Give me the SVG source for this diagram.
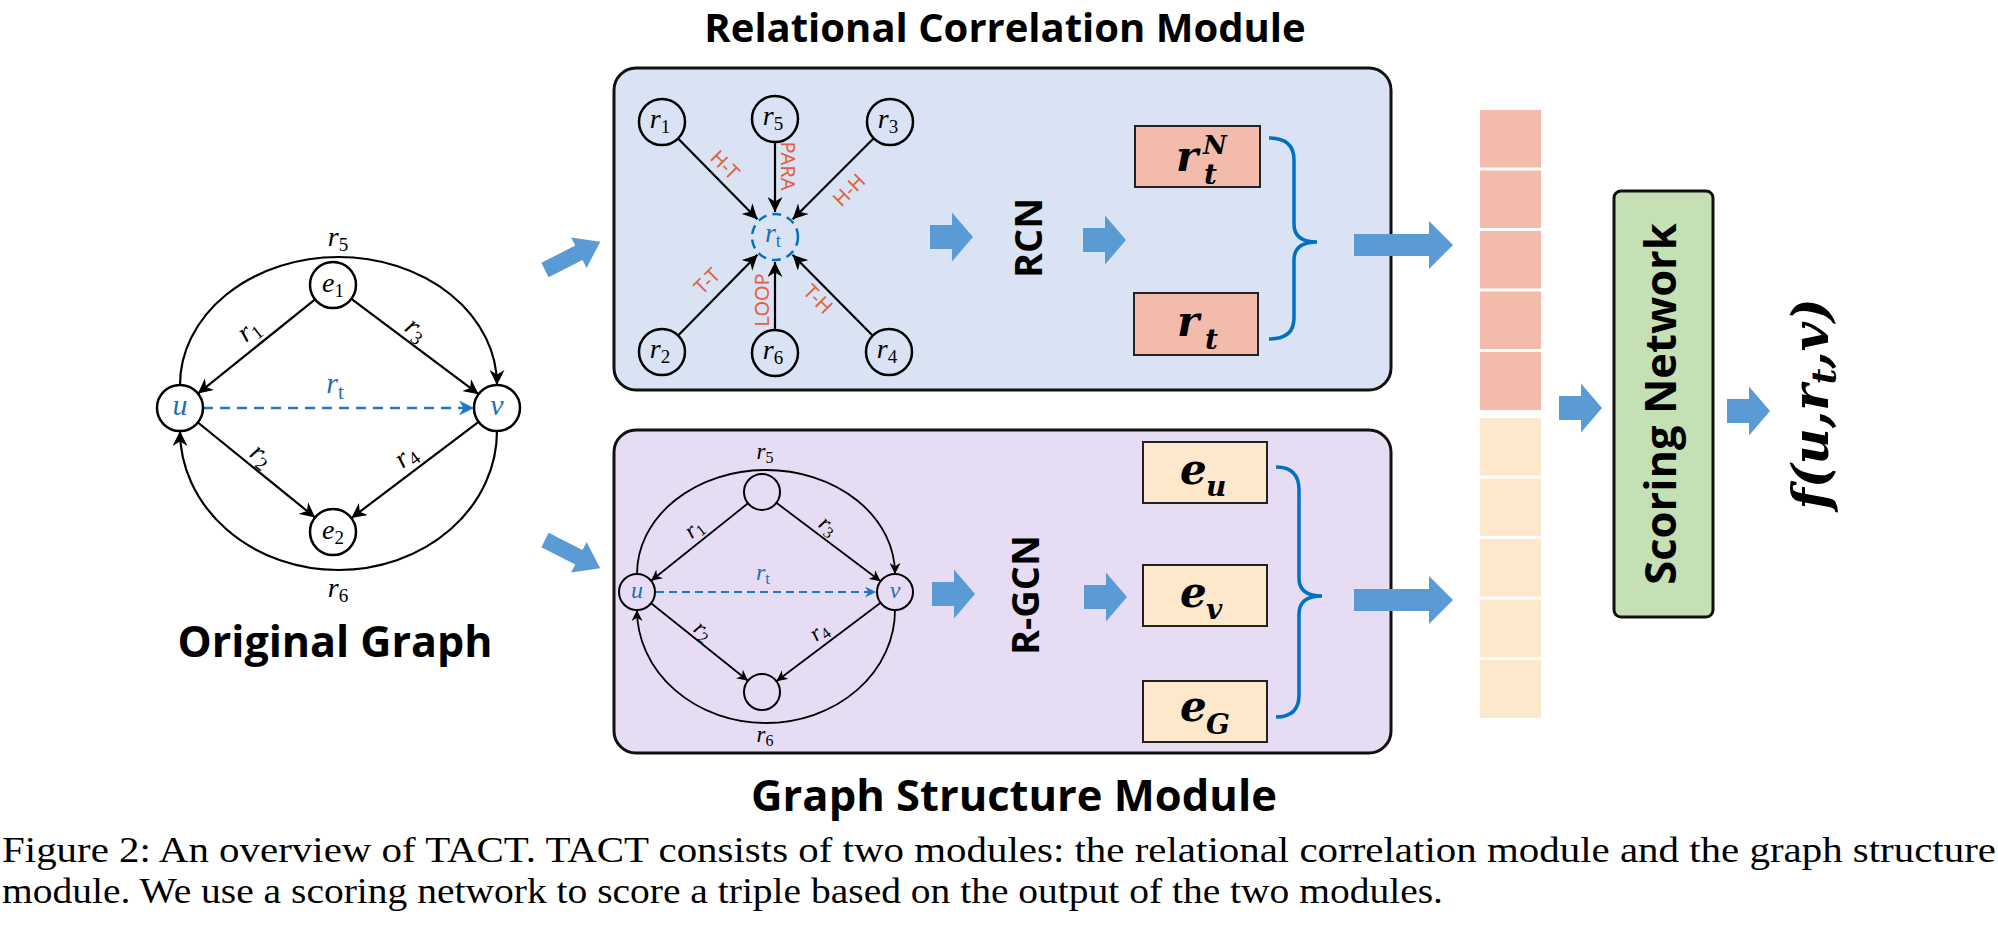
<svg xmlns="http://www.w3.org/2000/svg" width="1998" height="952" viewBox="0 0 1998 952">
<style>
.title{font-family:"Open Sans","Noto Sans","Liberation Sans",sans-serif;font-weight:700;fill:#000}
.lbl{font-family:"Open Sans","Noto Sans","Liberation Sans",sans-serif;font-weight:700;fill:#000}
.mi{font-family:"Liberation Serif","DejaVu Serif",serif;font-style:italic;fill:#000}
.sub{font-style:normal}
.blue{fill:#1f6fb8}
.rel{font-family:"Noto Sans","Open Sans","Liberation Sans",sans-serif;font-size:20px;fill:#e0603f}
.mb{font-family:"DejaVu Serif","Liberation Serif",serif;font-weight:700;font-style:italic;fill:#000}
.cap{font-family:"Liberation Serif","Times New Roman",serif;font-size:36px;fill:#000}
.node{fill:#fff;stroke:#000;stroke-width:2.5}
.nodet{fill:none;stroke:#000;stroke-width:2.5}
.nodes{fill:none;stroke:#000;stroke-width:2}
.edge{fill:none;stroke:#000;stroke-width:2.2}
.edges{fill:none;stroke:#000;stroke-width:1.8}
.dash{fill:none;stroke:#1f78c8;stroke-width:2.5;stroke-dasharray:10 7}
.dashs{fill:none;stroke:#1f78c8;stroke-width:2;stroke-dasharray:8 5}
.blk{fill:#5b9bd5}
.brace{fill:none;stroke:#0070c0;stroke-width:3.5}
.pink{fill:#f2bbab}
.peach{fill:#fee8cb}
</style>
<defs>
<marker id="ab" viewBox="0 0 10 10" refX="10" refY="5" markerWidth="15" markerHeight="15" markerUnits="userSpaceOnUse" orient="auto"><path d="M0,0 L10,5 L0,10 L3,5 Z" fill="#000"/></marker>
<marker id="abs" viewBox="0 0 10 10" refX="10" refY="5" markerWidth="11" markerHeight="11" markerUnits="userSpaceOnUse" orient="auto"><path d="M0,0 L10,5 L0,10 L3,5 Z" fill="#000"/></marker>
<marker id="abl" viewBox="0 0 10 10" refX="10" refY="5" markerWidth="15" markerHeight="15" markerUnits="userSpaceOnUse" orient="auto"><path d="M0,0 L10,5 L0,10 L3,5 Z" fill="#1f78c8"/></marker>
<marker id="abls" viewBox="0 0 10 10" refX="10" refY="5" markerWidth="11" markerHeight="11" markerUnits="userSpaceOnUse" orient="auto"><path d="M0,0 L10,5 L0,10 L3,5 Z" fill="#1f78c8"/></marker>
<path id="sa" d="M0,-12 H22 V-24.5 L43,0 L22,24.5 V12 H0 Z"/>
<path id="ba" d="M0,-11 H75 V-24 L99,0 L75,24 V11 H0 Z"/>
<path id="la" d="M0,-8 H38 V-17 L62,0 L38,17 V8 H0 Z"/>
</defs>

<!-- Titles -->
<text class="title" x="1005" y="42" font-size="40" text-anchor="middle">Relational Correlation Module</text>
<text class="title" x="1014" y="811" font-size="43.5" text-anchor="middle">Graph Structure Module</text>

<!-- Original graph -->
<g id="original-graph">
  <g id="og-edges">
    <path class="edge" d="M180,385 A158.5,128 0 0 1 497,385" marker-end="url(#ab)"/>
    <path class="edge" d="M497,431 A158.5,139 0 0 1 180,431" marker-end="url(#ab)"/>
    <line class="edge" x1="315.1" y1="299.4" x2="197.9" y2="393.6" marker-end="url(#ab)"/>
    <line class="edge" x1="351.4" y1="298.8" x2="478.6" y2="394.2" marker-end="url(#ab)"/>
    <line class="edge" x1="197.9" y1="422.5" x2="315.1" y2="517.5" marker-end="url(#ab)"/>
    <line class="edge" x1="478.6" y1="421.9" x2="351.4" y2="518.1" marker-end="url(#ab)"/>
    <line class="dash" x1="203" y1="408" x2="474" y2="408" marker-end="url(#abl)"/>
    <text class="mi" font-size="28" text-anchor="middle" x="338" y="246">r<tspan class="sub" font-size="19" dy="5">5</tspan></text>
    <text class="mi" font-size="28" text-anchor="middle" x="338" y="597">r<tspan class="sub" font-size="19" dy="5">6</tspan></text>
    <text class="mi" font-size="28" text-anchor="middle" transform="translate(250,332) rotate(-38)" y="6">r<tspan class="sub" font-size="19" dy="5">1</tspan></text>
    <text class="mi" font-size="28" text-anchor="middle" transform="translate(415,331) rotate(37)" y="6">r<tspan class="sub" font-size="19" dy="5">3</tspan></text>
    <text class="mi" font-size="28" text-anchor="middle" transform="translate(260,457) rotate(38)" y="6">r<tspan class="sub" font-size="19" dy="5">2</tspan></text>
    <text class="mi" font-size="28" text-anchor="middle" transform="translate(407,458) rotate(-37)" y="6">r<tspan class="sub" font-size="19" dy="5">4</tspan></text>
    <text class="mi blue" font-size="30" text-anchor="middle" x="335" y="393">r<tspan class="sub" font-size="21" dy="6" font-style="italic">t</tspan></text>
  </g>
  <g id="og-u"><circle class="node" cx="180" cy="408" r="23"/><text class="mi blue" font-size="30" text-anchor="middle" x="180" y="415">u</text></g>
  <g id="og-v"><circle class="node" cx="497" cy="408" r="23"/><text class="mi blue" font-size="30" text-anchor="middle" x="497" y="415">v</text></g>
  <g id="og-e1"><circle class="node" cx="333" cy="285" r="23"/><text class="mi" font-size="28" text-anchor="middle" x="333" y="292">e<tspan class="sub" font-size="19" dy="5">1</tspan></text></g>
  <g id="og-e2"><circle class="node" cx="333" cy="532" r="23"/><text class="mi" font-size="28" text-anchor="middle" x="333" y="539">e<tspan class="sub" font-size="19" dy="5">2</tspan></text></g>
  <text class="title" x="335" y="657" font-size="43" text-anchor="middle">Original Graph</text>
</g>

<!-- Relational Correlation Module -->
<g id="rcm">
  <rect x="614" y="68" width="777" height="322" rx="22" fill="#dae3f3" stroke="#111" stroke-width="3"/>
  <g id="rcm-edges">
    <line class="edge" x1="678.1" y1="138.4" x2="757.5" y2="219.2" marker-end="url(#ab)"/>
    <line class="edge" x1="775" y1="142" x2="775" y2="212" marker-end="url(#ab)"/>
    <line class="edge" x1="873.7" y1="138.3" x2="792.7" y2="219.3" marker-end="url(#ab)"/>
    <line class="edge" x1="678.1" y1="335.6" x2="757.5" y2="254.8" marker-end="url(#ab)"/>
    <line class="edge" x1="775" y1="330" x2="775" y2="262" marker-end="url(#ab)"/>
    <line class="edge" x1="872.8" y1="335.7" x2="792.6" y2="254.8" marker-end="url(#ab)"/>
    <text class="rel" text-anchor="middle" transform="translate(725,165) rotate(45)" y="7">H-T</text>
    <text class="rel" text-anchor="middle" transform="translate(788,166) rotate(90)" y="7">PARA</text>
    <text class="rel" text-anchor="middle" transform="translate(849,190) rotate(-45)" y="7">H-H</text>
    <text class="rel" text-anchor="middle" transform="translate(707,281) rotate(-45)" y="7">T-T</text>
    <text class="rel" text-anchor="middle" transform="translate(762,300) rotate(-90)" y="7">LOOP</text>
    <text class="rel" text-anchor="middle" transform="translate(818,299) rotate(45)" y="7">T-H</text>
  </g>
  <g id="rcm-r1"><circle class="nodet" cx="662" cy="122" r="23"/><text class="mi" font-size="28" text-anchor="middle" x="660" y="128">r<tspan class="sub" font-size="19" dy="5">1</tspan></text></g>
  <g id="rcm-r5"><circle class="nodet" cx="775" cy="119" r="23"/><text class="mi" font-size="28" text-anchor="middle" x="773" y="125">r<tspan class="sub" font-size="19" dy="5">5</tspan></text></g>
  <g id="rcm-r3"><circle class="nodet" cx="890" cy="122" r="23"/><text class="mi" font-size="28" text-anchor="middle" x="888" y="128">r<tspan class="sub" font-size="19" dy="5">3</tspan></text></g>
  <g id="rcm-r2"><circle class="nodet" cx="662" cy="352" r="23"/><text class="mi" font-size="28" text-anchor="middle" x="660" y="358">r<tspan class="sub" font-size="19" dy="5">2</tspan></text></g>
  <g id="rcm-r6"><circle class="nodet" cx="775" cy="353" r="23"/><text class="mi" font-size="28" text-anchor="middle" x="773" y="359">r<tspan class="sub" font-size="19" dy="5">6</tspan></text></g>
  <g id="rcm-r4"><circle class="nodet" cx="889" cy="352" r="23"/><text class="mi" font-size="28" text-anchor="middle" x="887" y="358">r<tspan class="sub" font-size="19" dy="5">4</tspan></text></g>
  <g id="rcm-rt"><circle fill="none" stroke="#0070c0" stroke-width="2.5" stroke-dasharray="9 6" cx="775" cy="237" r="23"/><text class="mi blue" font-size="28" text-anchor="middle" x="773" y="242">r<tspan class="sub" font-size="19" dy="5" font-style="italic">t</tspan></text></g>
  <use href="#sa" class="blk" transform="translate(930,237)"/>
  <text class="lbl" font-size="38" text-anchor="middle" transform="translate(1028,238) rotate(-90)" y="14">RCN</text>
  <use href="#sa" class="blk" transform="translate(1083,240)"/>
  <g id="rtN"><rect x="1135" y="126" width="125" height="61" fill="#f2bbab" stroke="#222" stroke-width="2"/>
    <text class="mb" font-size="42" x="1176" y="171">r</text><text class="mb" font-size="28" x="1204" y="184">t</text><text class="mb" font-size="26" x="1203" y="154">N</text></g>
  <g id="rt"><rect x="1134" y="293" width="124" height="62" fill="#f2bbab" stroke="#222" stroke-width="2"/>
    <text class="mb" font-size="42" x="1177" y="336">r</text><text class="mb" font-size="28" x="1205" y="349">t</text></g>
  <path class="brace" d="M1269,138 Q1294,138 1294,160 V224 Q1294,242 1317,242 Q1294,242 1294,260 V318 Q1294,339 1269,339"/>
</g>

<!-- Graph Structure Module -->
<g id="gsm">
  <rect x="614" y="430" width="777" height="323" rx="22" fill="#e6ddf5" stroke="#111" stroke-width="3"/>
  <g id="gsm-edges">
    <path class="edges" d="M637,574 A129,104 0 0 1 895,574" marker-end="url(#abs)"/>
    <path class="edges" d="M895,610 A129,113 0 0 1 637,610" marker-end="url(#abs)"/>
    <line class="edges" x1="748" y1="503.3" x2="651.1" y2="580.8" marker-end="url(#abs)"/>
    <line class="edges" x1="776.4" y1="502.8" x2="880.6" y2="581.2" marker-end="url(#abs)"/>
    <line class="edges" x1="651.1" y1="603.3" x2="748" y2="680.8" marker-end="url(#abs)"/>
    <line class="edges" x1="880.6" y1="602.8" x2="776.4" y2="681.2" marker-end="url(#abs)"/>
    <line class="dashs" x1="656" y1="592" x2="876" y2="592" marker-end="url(#abls)"/>
    <text class="mi" font-size="23" text-anchor="middle" x="765" y="459">r<tspan class="sub" font-size="16" dy="4">5</tspan></text>
    <text class="mi" font-size="23" text-anchor="middle" x="765" y="742">r<tspan class="sub" font-size="16" dy="4">6</tspan></text>
    <text class="mi" font-size="23" text-anchor="middle" transform="translate(695,530) rotate(-38)" y="5">r<tspan class="sub" font-size="16" dy="4">1</tspan></text>
    <text class="mi" font-size="23" text-anchor="middle" transform="translate(827,527) rotate(37)" y="5">r<tspan class="sub" font-size="16" dy="4">3</tspan></text>
    <text class="mi" font-size="23" text-anchor="middle" transform="translate(702,632) rotate(38)" y="5">r<tspan class="sub" font-size="16" dy="4">2</tspan></text>
    <text class="mi" font-size="23" text-anchor="middle" transform="translate(820,633) rotate(-37)" y="5">r<tspan class="sub" font-size="16" dy="4">4</tspan></text>
    <text class="mi blue" font-size="24" text-anchor="middle" x="763" y="580">r<tspan class="sub" font-size="17" dy="4" font-style="italic">t</tspan></text>
  </g>
  <g id="gsm-u"><circle class="nodes" cx="637" cy="592" r="18"/><text class="mi blue" font-size="24" text-anchor="middle" x="637" y="598">u</text></g>
  <g id="gsm-v"><circle class="nodes" cx="895" cy="592" r="18"/><text class="mi blue" font-size="24" text-anchor="middle" x="895" y="598">v</text></g>
  <g id="gsm-top"><circle class="nodes" cx="762" cy="492" r="18"/></g>
  <g id="gsm-bottom"><circle class="nodes" cx="762" cy="692" r="18"/></g>
  <use href="#sa" class="blk" transform="translate(932,594)"/>
  <text class="lbl" font-size="38" text-anchor="middle" transform="translate(1025,595) rotate(-90)" y="14">R-GCN</text>
  <use href="#sa" class="blk" transform="translate(1084,597)"/>
  <g id="eu"><rect x="1143" y="442" width="124" height="61" fill="#fee8cb" stroke="#222" stroke-width="2"/>
    <text class="mb" font-size="42" x="1180" y="484">e</text><text class="mb" font-size="28" x="1206" y="496">u</text></g>
  <g id="ev"><rect x="1143" y="565" width="124" height="61" fill="#fee8cb" stroke="#222" stroke-width="2"/>
    <text class="mb" font-size="42" x="1180" y="607">e</text><text class="mb" font-size="28" x="1206" y="619">v</text></g>
  <g id="eG"><rect x="1143" y="681" width="124" height="61" fill="#fee8cb" stroke="#222" stroke-width="2"/>
    <text class="mb" font-size="42" x="1180" y="721">e</text><text class="mb" font-size="28" x="1206" y="734">G</text></g>
  <path class="brace" d="M1276,467 Q1299,467 1299,490 V578 Q1299,596 1322,596 Q1299,596 1299,614 V695 Q1299,717 1276,717"/>
</g>

<!-- Connectors (block arrows) -->
<g id="connectors">
  <use href="#la" class="blk" transform="translate(545,270) rotate(-27)"/>
  <use href="#la" class="blk" transform="translate(545,540) rotate(27)"/>
  <use href="#ba" class="blk" transform="translate(1354,245)"/>
  <use href="#ba" class="blk" transform="translate(1354,600)"/>
  <use href="#sa" class="blk" transform="translate(1559,408)"/>
  <use href="#sa" class="blk" transform="translate(1727,411)"/>
</g>

<!-- Concatenated vector -->
<g id="vector">
  <rect class="pink" x="1480" y="110" width="61" height="57.5"/>
  <rect class="pink" x="1480" y="170.5" width="61" height="57.5"/>
  <rect class="pink" x="1480" y="231" width="61" height="57.5"/>
  <rect class="pink" x="1480" y="291.5" width="61" height="57.5"/>
  <rect class="pink" x="1480" y="352" width="61" height="58"/>
  <rect class="peach" x="1480" y="418" width="61" height="57.5"/>
  <rect class="peach" x="1480" y="478.5" width="61" height="57.5"/>
  <rect class="peach" x="1480" y="539" width="61" height="57.5"/>
  <rect class="peach" x="1480" y="599.5" width="61" height="57.5"/>
  <rect class="peach" x="1480" y="660" width="61" height="58"/>
</g>

<!-- Scoring network -->
<g id="scoring">
  <rect x="1614" y="191" width="99" height="426" rx="7" fill="#c5e0b4" stroke="#111" stroke-width="3"/>
  <text class="lbl" font-size="43.5" text-anchor="middle" transform="translate(1661,404) rotate(-90)" y="15">Scoring Network</text>
</g>

<g id="output">
  <text class="mb" font-size="50" text-anchor="middle" transform="translate(1813,404) rotate(-90)" y="15">f(u,r<tspan font-size="34" dy="8">t</tspan><tspan dy="-8">,v)</tspan></text>
</g>

<!-- Caption -->
<text class="cap" x="2" y="862" textLength="1994" lengthAdjust="spacingAndGlyphs">Figure 2: An overview of TACT. TACT consists of two modules: the relational correlation module and the graph structure</text>
<text class="cap" x="2" y="903" textLength="1441" lengthAdjust="spacingAndGlyphs">module. We use a scoring network to score a triple based on the output of the two modules.</text>
</svg>
